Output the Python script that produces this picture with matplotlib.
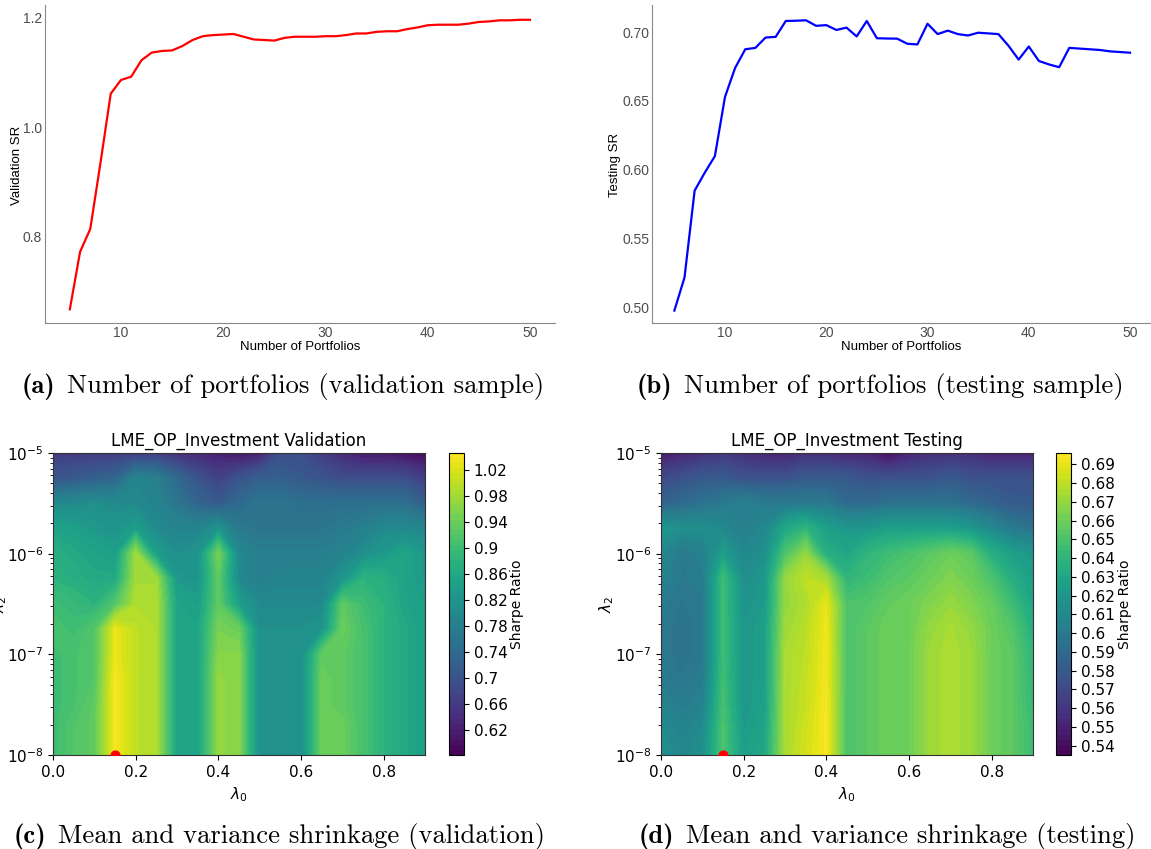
import numpy as np
import matplotlib
matplotlib.use('Agg')
import matplotlib.pyplot as plt

W, H = 1151, 849

# paneles de arriba: SR vs numero de portafolios
n_port = list(range(5, 51))
sr_val = [.667, .772, .814, .935, 1.061, 1.086, 1.092, 1.122, 1.136, 1.139, 1.140, 1.148, 1.159, 1.166, 1.168, 1.169,
          1.170, 1.165, 1.160, 1.159, 1.158, 1.163, 1.165, 1.165, 1.165, 1.166, 1.166, 1.168, 1.171, 1.171, 1.174,
          1.175, 1.175, 1.179, 1.182, 1.186, 1.187, 1.187, 1.187, 1.189, 1.192, 1.193, 1.195, 1.195, 1.196, 1.196]
sr_test = [.498, .522, .585, .598, .610, .653, .674, .6875, .6885, .696, .6965, .708, .7082, .7085, .7045, .705,
           .7015, .7032, .6968, .708, .6955, .6953, .6952, .6915, .691, .706, .6985, .701, .6985, .6975, .6995,
           .699, .6985, .690, .680, .6895, .679, .6765, .6745, .6885, .688, .6875, .687, .686, .6855, .685]

# grillas de los mapas de calor
lambda0 = [0, .05, .1, .15, .2, .25, .3, .35, .4, .45, .5, .55, .6, .65, .7, .75, .8, .85, .9]
lambda2 = [1e-8, 1.78e-8, 3.16e-8, 5.62e-8, 1e-7, 1.78e-7, 3.16e-7, 5.62e-7, 1e-6, 1.78e-6, 3.16e-6, 5.62e-6, 1e-5]

z_val = [
    [.90, .92, .93, 1.04, 1.00, .99, .85, .85, .97, .96, .81, .81, .81, .94, .94, .91, .88, .86, .84],
    [.90, .92, .93, 1.04, 1.00, .99, .85, .85, .97, .96, .81, .81, .81, .94, .94, .91, .88, .86, .84],
    [.90, .91, .93, 1.04, 1.00, .99, .85, .85, .97, .96, .81, .81, .81, .94, .93, .91, .88, .86, .84],
    [.90, .91, .92, 1.04, 1.00, .99, .85, .85, .97, .96, .81, .81, .81, .94, .93, .91, .88, .86, .84],
    [.90, .91, .92, 1.03, 1.00, .99, .85, .85, .96, .96, .81, .81, .81, .93, .93, .91, .88, .86, .84],
    [.91, .90, .92, 1.03, 1.00, .99, .85, .85, .95, .94, .81, .81, .81, .82, .94, .91, .88, .86, .84],
    [.90, .89, .88, .92, .99, .99, .85, .84, .93, .84, .80, .80, .80, .80, .93, .90, .88, .85, .84],
    [.88, .87, .86, .86, .98, .98, .83, .82, .93, .80, .78, .79, .79, .79, .82, .88, .87, .85, .83],
    [.87, .86, .85, .84, .98, .84, .81, .82, .95, .80, .78, .78, .78, .78, .79, .81, .83, .85, .83],
    [.85, .84, .83, .82, .84, .80, .79, .79, .82, .77, .76, .76, .76, .76, .77, .78, .80, .80, .79],
    [.80, .80, .81, .80, .80, .79, .76, .73, .71, .74, .76, .76, .75, .75, .75, .75, .75, .75, .72],
    [.70, .71, .72, .73, .79, .78, .74, .70, .67, .70, .72, .72, .71, .70, .69, .69, .69, .69, .66],
    [.66, .66, .66, .66, .66, .66, .64, .63, .62, .605, .62, .69, .69, .66, .63, .61, .61, .60, .59],
]
z_test = [
    [.615, .610, .615, .650, .625, .630, .675, .685, .694, .650, .655, .660, .660, .672, .676, .672, .660, .655, .645],
    [.612, .607, .612, .650, .622, .628, .675, .684, .694, .650, .655, .660, .660, .672, .676, .672, .660, .655, .645],
    [.606, .602, .606, .648, .620, .626, .675, .682, .694, .650, .655, .660, .660, .672, .676, .672, .660, .655, .643],
    [.602, .598, .602, .646, .620, .625, .675, .681, .693, .650, .655, .660, .660, .672, .676, .672, .660, .655, .641],
    [.600, .595, .600, .645, .620, .625, .675, .680, .693, .650, .655, .660, .660, .672, .676, .672, .660, .655, .640],
    [.600, .595, .600, .645, .620, .625, .672, .679, .692, .650, .655, .660, .660, .670, .675, .670, .660, .652, .635],
    [.602, .597, .600, .645, .618, .622, .670, .676, .690, .650, .652, .657, .660, .665, .671, .665, .658, .645, .630],
    [.606, .600, .602, .645, .615, .620, .670, .680, .675, .640, .645, .652, .655, .660, .665, .660, .650, .635, .625],
    [.610, .600, .605, .625, .610, .615, .650, .670, .635, .630, .640, .645, .650, .655, .660, .655, .635, .625, .620],
    [.620, .615, .615, .610, .605, .610, .630, .640, .625, .620, .620, .625, .625, .625, .625, .620, .610, .600, .595],
    [.585, .590, .595, .600, .605, .600, .600, .600, .600, .590, .590, .595, .595, .595, .595, .590, .585, .580, .580],
    [.570, .575, .580, .580, .575, .575, .575, .580, .580, .580, .575, .575, .575, .575, .580, .575, .575, .575, .575],
    [.545, .550, .555, .560, .555, .550, .550, .555, .555, .550, .550, .538, .550, .555, .555, .555, .550, .550, .550],
]

ticks_val = [.62, .66, .7, .74, .78, .82, .86, .9, .94, .98, 1.02]
ticks_test = [.54, .55, .56, .57, .58, .59, .6, .61, .62, .63, .64, .65, .66, .67, .68, .69]
best_x = 0.15
best_y = 1e-8


def caja(x0, y0, x1, y1):
    # caja en pixeles de la imagen, y desde arriba
    return [x0 / W, 1 - y1 / H, (x1 - x0) / W, (y1 - y0) / H]


def linea(caja_px, ys, color, xlim, ylim, yticks, ylabel, ylabel_x):
    ax = fig.add_axes(caja(*caja_px))
    ax.plot(n_port, ys, color=color, lw=1.6)
    ax.set_xlim(*xlim)
    ax.set_ylim(*ylim)
    ax.set_xticks([10, 20, 30, 40, 50])
    ax.set_yticks(yticks)
    ax.tick_params(length=0, labelsize=10, labelcolor='#4D4D4D', pad=2)
    for lab in ax.get_xticklabels() + ax.get_yticklabels():
        lab.set_family('Liberation Sans')
    ax.spines['top'].set_visible(False)
    ax.spines['right'].set_visible(False)
    ax.spines['left'].set_color('#888888')
    ax.spines['bottom'].set_color('#888888')
    ax.set_xlabel('Number of Portfolios', family='Liberation Sans', fontsize=9.5, labelpad=1)
    fig.text(ylabel_x / W, 1 - 165 / H, ylabel, family='Liberation Sans', fontsize=9.5,
             rotation=90, ha='center', va='center')
    return ax


def mapa(caja_px, z, ticks, titulo, cb_x0, cb_x1, vmin, vmax, ylab_x, cb_lab_x):
    ax = fig.add_axes(caja(*caja_px))
    niveles = np.linspace(vmin, vmax, 60)
    cf = ax.contourf(lambda0, lambda2, np.clip(z, vmin, vmax), levels=niveles, cmap='viridis')
    ax.set_yscale('log')
    ax.set_xlim(0, .9)
    ax.set_ylim(1e-8, 1e-5)
    ax.set_xticks([0, .2, .4, .6, .8])
    ax.tick_params(labelsize=11)
    ax.set_title(titulo, fontsize=12, pad=5)
    ax.set_xlabel(r'$\lambda_0$', fontsize=11)
    ax.scatter([best_x], [best_y], color='red', s=40, zorder=5)
    for s in ax.spines.values():
        s.set_color('#333333')
    fig.text(ylab_x / W, 1 - 604 / H, r'$\lambda_2$', fontsize=11, rotation=90, ha='center', va='center')

    cax = fig.add_axes(caja(cb_x0, caja_px[1], cb_x1, caja_px[3]))
    cb = fig.colorbar(cf, cax=cax, ticks=ticks)
    cb.ax.set_yticklabels(['%g' % t for t in ticks])
    cb.ax.tick_params(labelsize=11)
    cb.set_label('Sharpe Ratio', fontsize=10)
    cb.ax.yaxis.set_label_coords((cb_lab_x - cb_x0) / (cb_x1 - cb_x0), .5)
    return ax


def pie(x, y, letra, texto):
    t = fig.text(x / W, 1 - y / H, '(%s)' % letra, family='cmb10', fontsize=19.2, va='baseline')
    fig.canvas.draw()
    bb = t.get_window_extent()
    fig.text((bb.x1 + 11) / W, 1 - y / H, texto, family='cmr10', fontsize=19.2, va='baseline')


fig = plt.figure(figsize=(W / 100, H / 100), dpi=100)

linea((45, 5, 555, 323), sr_val, 'red', (2.57, 52.45), (.642, 1.223), [.8, 1.0, 1.2], 'Validation SR', 17)
linea((652, 5, 1151, 323), sr_test, 'blue', (2.79, 52.07), (.489, .7196), [.5, .55, .6, .65, .7], 'Testing SR', 615)

mapa((53, 453, 425, 755), z_val, ticks_val, 'LME_OP_Investment Validation', 449, 464, .5815, 1.0456, 0, 510)
mapa((661, 453, 1033, 755), z_test, ticks_test, 'LME_OP_Investment Testing', 1056, 1071, .535, .696, 607, 1118)

pie(22, 393, 'a', 'Number of portfolios (validation sample)')
pie(637, 393, 'b', 'Number of portfolios (testing sample)')
pie(14, 843, 'c', 'Mean and variance shrinkage (validation)')
pie(639, 843, 'd', 'Mean and variance shrinkage (testing)')

fig.savefig('out.png', dpi=100)
